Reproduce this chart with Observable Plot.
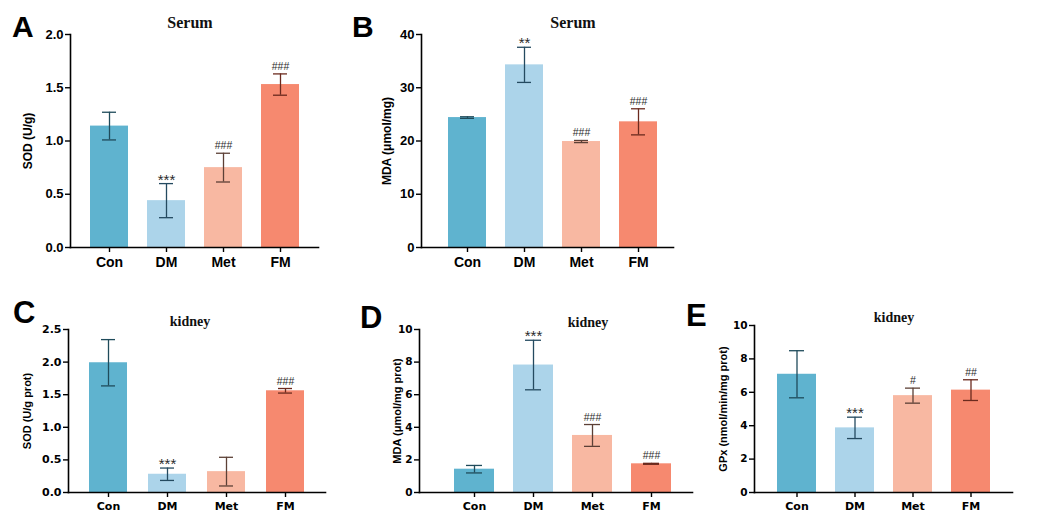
<!DOCTYPE html>
<html><head><meta charset="utf-8">
<script src="https://cdn.jsdelivr.net/npm/d3@7"></script>
<script src="https://cdn.jsdelivr.net/npm/@observablehq/plot@0.6"></script>
<style>
body{margin:0;background:#fff;}
#fig{position:relative;width:1037px;height:520px;overflow:hidden;background:#fff;}
.panel{position:absolute;}
.letter{position:absolute;font-family:"Liberation Sans",Arial,sans-serif;font-weight:bold;line-height:1;color:#000;}
.title{position:absolute;font-family:"Liberation Serif","Times New Roman",serif;font-weight:bold;transform:translateX(-50%);line-height:1;white-space:nowrap;color:#111;}
</style></head><body><div id="fig"></div>
<script>
// ---- data ----
const groups = ["Con", "DM", "Met", "FM"];
const barColors = ["#5fb3cf", "#acd4ea", "#f8b8a2", "#f6896f"];
const whiskerColors = ["#1f4b5b", "#244a60", "#5c4036", "#6b2a1e"];

const sodSerum = [1.14, 0.44, 0.75, 1.53];
const sodSerumErr = [0.13, 0.16, 0.135, 0.10];
const sodSerumNotes = ["", "***", "###", "###"];
const sodSerumTicks = [0, 0.5, 1.0, 1.5, 2.0];

const mdaSerum = [24.4, 34.3, 19.9, 23.6];
const mdaSerumErr = [0.15, 3.3, 0.2, 2.45];
const mdaSerumNotes = ["", "**", "###", "###"];
const mdaSerumTicks = [0, 10, 20, 30, 40];

const sodKidney = [1.99, 0.28, 0.32, 1.56];
const sodKidneyErr = [0.355, 0.095, 0.22, 0.035];
const sodKidneyNotes = ["", "***", "", "###"];
const sodKidneyTicks = [0, 0.5, 1.0, 1.5, 2.0, 2.5];

const mdaKidney = [1.43, 7.82, 3.50, 1.76];
const mdaKidneyErr = [0.23, 1.52, 0.67, 0.03];
const mdaKidneyNotes = ["", "***", "###", "###"];
const mdaKidneyTicks = [0, 2, 4, 6, 8, 10];

const gpxKidney = [7.08, 3.87, 5.80, 6.13];
const gpxKidneyErr = [1.41, 0.64, 0.45, 0.62];
const gpxKidneyNotes = ["", "***", "#", "##"];
const gpxKidneyTicks = [0, 2, 4, 6, 8, 10];

// ---- panels ----
const panels = [
  {letter:"A", title:"Serum", label:"SOD (U/g)", vals:sodSerum, errs:sodSerumErr, notes:sodSerumNotes, ticks:sodSerumTicks, fmt:".1f",
   left:0, top:0, width:340, height:280, ml:70, mr:22, mt:34, mb:33, pi:0.34, po:0.33, align:0.5,
   font:"Liberation Sans", tickFont:13, xFont:14, labelFont:12, labelDx:-42,
   letterX:12, letterY:12, letterSize:30, titleX:190, titleY:15, titleSize:16},
  {letter:"B", title:"Serum", label:"MDA (\u03bcmol/mg)", vals:mdaSerum, errs:mdaSerumErr, notes:mdaSerumNotes, ticks:mdaSerumTicks, fmt:"d",
   left:340, top:0, width:340, height:280, ml:81, mr:7, mt:34, mb:33, pi:0.33, po:0.365, align:0.64,
   font:"Liberation Sans", tickFont:13, xFont:14, labelFont:12, labelDx:-34,
   letterX:352, letterY:12, letterSize:30, titleX:573, titleY:15, titleSize:16},
  {letter:"C", title:"kidney", label:"SOD (U/g prot)", vals:sodKidney, errs:sodKidneyErr, notes:sodKidneyNotes, ticks:sodKidneyTicks, fmt:".1f",
   left:0, top:290, width:340, height:230, ml:68, mr:15, mt:39, mb:28, pi:0.35, po:0.325, align:0.5,
   font:"DejaVu Sans", tickFont:11, xFont:11, labelFont:11, labelDx:-41,
   letterX:13, letterY:297, letterSize:31, titleX:190, titleY:315, titleSize:14},
  {letter:"D", title:"kidney", label:"MDA (\u03bcmol/mg prot)", vals:mdaKidney, errs:mdaKidneyErr, notes:mdaKidneyNotes, ticks:mdaKidneyTicks, fmt:"d",
   left:340, top:290, width:360, height:230, ml:79, mr:8, mt:39, mb:28, pi:0.33, po:0.465, align:0.62,
   font:"DejaVu Sans", tickFont:10.5, xFont:11, labelFont:11, labelDx:-22,
   letterX:360, letterY:302, letterSize:31, titleX:588, titleY:316, titleSize:14},
  {letter:"E", title:"kidney", label:"GPx (nmol/min/mg prot)", vals:gpxKidney, errs:gpxKidneyErr, notes:gpxKidneyNotes, ticks:gpxKidneyTicks, fmt:"d",
   left:680, top:290, width:357, height:230, ml:74, mr:25, mt:35, mb:28, pi:0.335, po:0.365, align:0.5,
   font:"DejaVu Sans", tickFont:10.5, xFont:11, labelFont:11, labelDx:-31,
   letterX:686, letterY:300, letterSize:31, titleX:894, titleY:311, titleSize:14}
];

const fig = document.getElementById("fig");

for (const p of panels) {
  const data = groups.map((g, i) => ({
    group: g, value: p.vals[i], lo: p.vals[i] - p.errs[i], hi: p.vals[i] + p.errs[i],
    note: p.notes[i], fill: barColors[i], whisker: whiskerColors[i]
  }));
  const stars = data.filter(d => d.note.startsWith("*"));
  const hashes = data.filter(d => d.note.startsWith("#"));
  const ymax = p.ticks[p.ticks.length - 1];
  const chart = Plot.plot({
    width: p.width, height: p.height,
    marginLeft: p.ml, marginRight: p.mr, marginTop: p.mt, marginBottom: p.mb,
    style: {fontFamily: `"${p.font}", sans-serif`, fontWeight: "bold", color: "#000", background: "transparent", overflow: "visible"},
    x: {domain: groups, paddingInner: p.pi, paddingOuter: p.po, align: p.align},
    y: {domain: [0, ymax]},
    marks: [
      Plot.barY(data, {x: "group", y: "value", fill: "fill"}),
      Plot.ruleX(data, {x: "group", y1: "lo", y2: "hi", stroke: "whisker", strokeWidth: 1.3}),
      Plot.tickY(data, {x: "group", y: "hi", stroke: "whisker", strokeWidth: 1.3, inset: 12}),
      Plot.tickY(data, {x: "group", y: "lo", stroke: "whisker", strokeWidth: 1.3, inset: 12}),
      Plot.text(stars, {x: "group", y: "hi", text: "note", dy: 1, lineAnchor: "bottom", fill: "#2a2a2a", fontSize: 15, fontWeight: "normal", fontFamily: "Liberation Sans, sans-serif"}),
      Plot.text(hashes, {x: "group", y: "hi", text: "note", dy: -4, lineAnchor: "bottom", fill: "#2a2a2a", fontSize: 10.5, fontWeight: "normal", fontFamily: "Liberation Sans, sans-serif"}),
      Plot.frame({anchor: "left", stroke: "#000", strokeWidth: 1.6}),
      Plot.frame({anchor: "bottom", stroke: "#000", strokeWidth: 1.6}),
      Plot.axisY({ticks: p.ticks, tickFormat: d3.format(p.fmt), tickSize: 5, tickPadding: 2, label: null, fontSize: p.tickFont, stroke: "#000", strokeWidth: 1.4}),
      Plot.axisX({tickSize: 5, tickPadding: 5, label: null, fontSize: p.xFont, stroke: "#000", strokeWidth: 1.4}),
      Plot.text([p.label], {frameAnchor: "left", textAnchor: "middle", rotate: -90, dx: p.labelDx, fontSize: p.labelFont, fill: "#000", fontWeight: "bold", fontFamily: "Liberation Sans, sans-serif"})
    ]
  });
  const wrap = document.createElement("div");
  wrap.className = "panel";
  wrap.style.left = p.left + "px";
  wrap.style.top = p.top + "px";
  wrap.appendChild(chart);
  fig.appendChild(wrap);

  const letter = document.createElement("div");
  letter.className = "letter";
  letter.textContent = p.letter;
  letter.style.left = p.letterX + "px";
  letter.style.top = p.letterY + "px";
  letter.style.fontSize = p.letterSize + "px";
  fig.appendChild(letter);

  const title = document.createElement("div");
  title.className = "title";
  title.textContent = p.title;
  title.style.left = p.titleX + "px";
  title.style.top = p.titleY + "px";
  title.style.fontSize = p.titleSize + "px";
  fig.appendChild(title);
}
</script></body></html>
